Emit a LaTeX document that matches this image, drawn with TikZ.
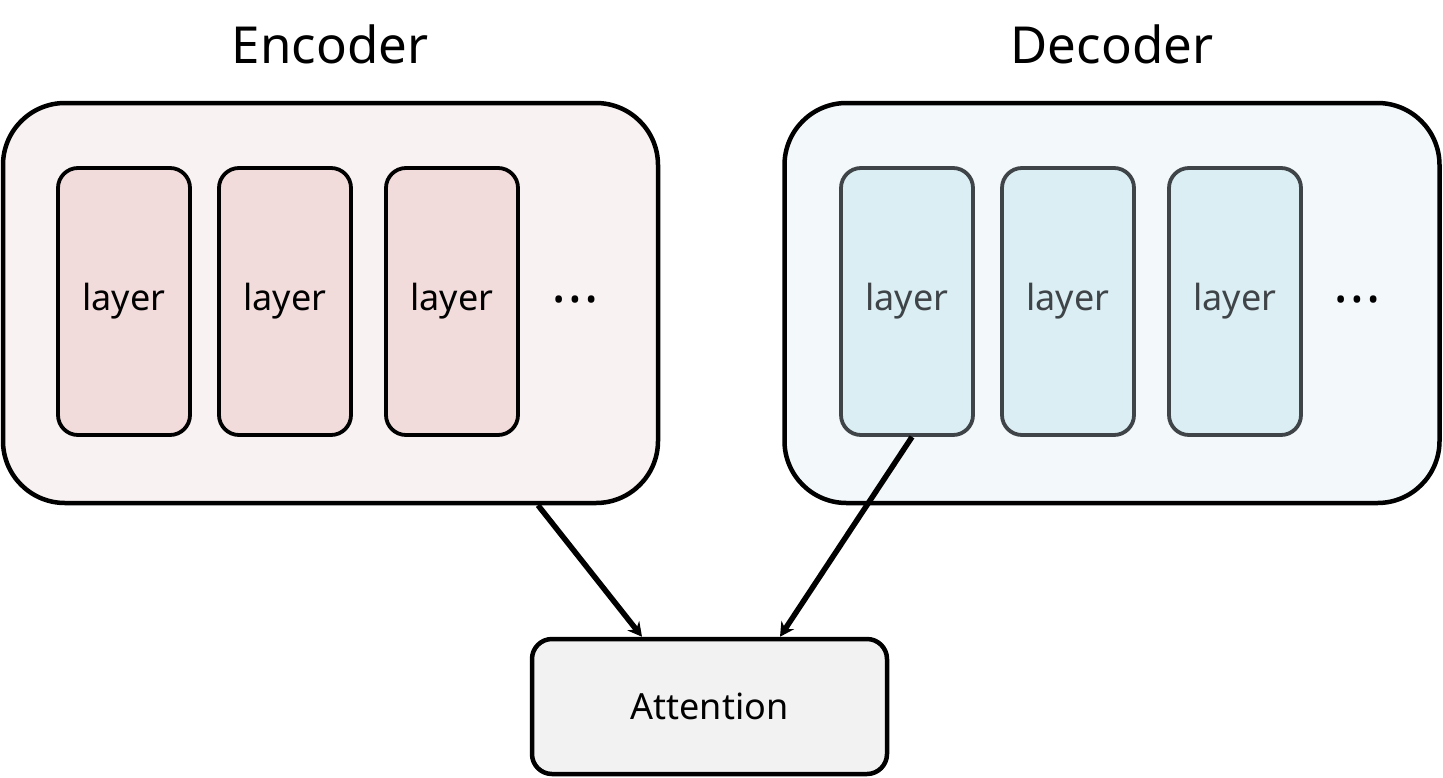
\documentclass[tikz,border=0pt]{standalone}
\usepackage{fontspec}
\setmainfont{Noto Sans}
\usetikzlibrary{arrows.meta}
\definecolor{encbg}{HTML}{F9F2F2}
\definecolor{encly}{HTML}{F2DCDB}
\definecolor{decbg}{HTML}{F3F8FB}
\definecolor{decly}{HTML}{DAEEF3}
\definecolor{decln}{HTML}{3F4448}
\definecolor{attbg}{HTML}{F2F2F2}
\tikzset{
  outerbox/.style={draw=black, line width=4.5pt, rounded corners=62pt, minimum width=655pt, minimum height=400pt},
  enclayer/.style={draw=black, fill=encly, line width=3.8pt, rounded corners=20pt, minimum width=132pt, minimum height=267pt, font=\fontsize{36}{42}\selectfont, text=black},
  declayer/.style={draw=decln, fill=decly, line width=3.8pt, rounded corners=20pt, minimum width=132pt, minimum height=267pt, font=\fontsize{36}{42}\selectfont, text=decln},
  title/.style={font=\fontsize{51}{60}\selectfont},
  dots/.style={font=\fontsize{30}{36}\selectfont, inner sep=0pt},
  conn/.style={line width=5.5pt, -{Stealth[length=14pt,width=15pt]}}
}
\begin{document}
\begin{tikzpicture}[x=1pt,y=-1pt]
\useasboundingbox (0,0) rectangle (1443,777);
\node[title] (enctitle) at (330,44) {Encoder};
\node[title] (dectitle) at (1112,44) {Decoder};
\node[outerbox, fill=encbg] (enc) at (330.5,303) {};
\node[outerbox, fill=decbg] (dec) at (1112,303) {};
\node[enclayer] (e1) at (124,301.5) {layer};
\node[enclayer] (e2) at (285,301.5) {layer};
\node[enclayer] (e3) at (452,301.5) {layer};
\node[dots] (edots) at (575,303) {•\hspace{5pt}•\hspace{5pt}•};
\node[declayer] (d1) at (907,301.5) {layer};
\node[declayer] (d2) at (1068,301.5) {layer};
\node[declayer] (d3) at (1235,301.5) {layer};
\node[dots] (ddots) at (1357,303) {•\hspace{5pt}•\hspace{5pt}•};
\node[draw=black, fill=attbg, line width=4.5pt, rounded corners=20pt, minimum width=355pt, minimum height=135pt, font=\fontsize{36}{42}\selectfont] (att) at (709.5,706.5) {Attention};
\draw[conn] ([xshift=207.5pt]enc.south) -- ([xshift=-67.5pt]att.north);
\draw[conn] ([xshift=5pt]d1.south) -- ([xshift=70.5pt]att.north);
\end{tikzpicture}
\end{document}
